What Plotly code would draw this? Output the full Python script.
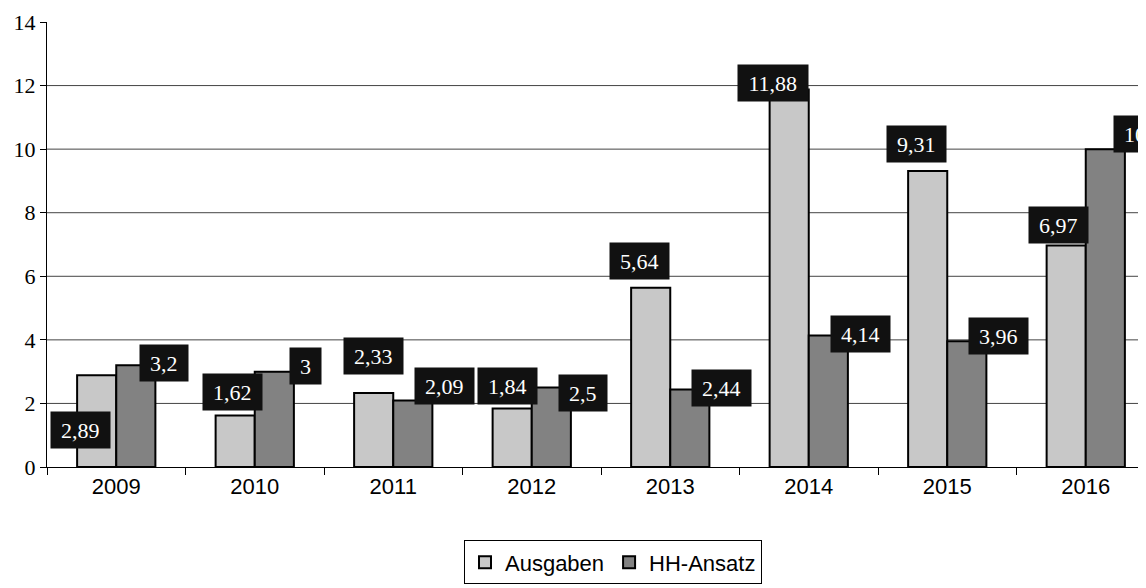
import plotly.graph_objects as go

# ---- data ----
years = ["2009", "2010", "2011", "2012", "2013", "2014", "2015", "2016"]
ausgaben = [2.89, 1.62, 2.33, 1.84, 5.64, 11.88, 9.31, 6.97]
hh_ansatz = [3.2, 3.0, 2.09, 2.5, 2.44, 4.14, 3.96, 10.0]
y_ticks = [0, 2, 4, 6, 8, 10, 12, 14]

# ---- styling ----
BARGAP = 0.435
half = (1 - BARGAP) / 4.0  # centre offset of each bar within its group

# label offsets (px) relative to bar top-centre, as manually placed in the original
aus_shift = [(-16, -55), (-3, 24), (0, 37), (-5, 23), (-11, 27), (-16, 6), (-11, 27), (-8, 20)]
hh_shift = [(28, 2), (31, 6), (32, 15), (32, -5), (32, 1), (32, 1), (32, 5), (30, 15)]


def fmt(v):
    return f"{v:g}".replace(".", ",")


def box_width(t):
    w = 0
    for ch in t:
        w += 5.5 if ch == "," else 11
    return w + 12


fig = go.Figure()
fig.add_trace(go.Bar(
    name="Ausgaben", x=years, y=ausgaben,
    marker=dict(color="#c8c8c8", line=dict(color="black", width=2)),
))
fig.add_trace(go.Bar(
    name="HH-Ansatz", x=years, y=hh_ansatz,
    marker=dict(color="#828282", line=dict(color="black", width=2)),
))

annotations = []
for series, off, shifts in ((ausgaben, -half, aus_shift), (hh_ansatz, half, hh_shift)):
    for i, v in enumerate(series):
        t = fmt(v)
        dx, dy = shifts[i]
        annotations.append(dict(
            x=i + off, y=v, xref="x", yref="y", text=t, showarrow=False,
            xanchor="center", yanchor="middle", xshift=dx, yshift=dy,
            bgcolor="#111111", borderpad=4, width=box_width(t), height=28,
            font=dict(family="Liberation Serif", size=22, color="white"),
        ))

shapes = []
for g in y_ticks[1:-1]:
    shapes.append(dict(
        type="line", xref="paper", yref="y", x0=0, x1=1, y0=g, y1=g,
        line=dict(color="#444444", width=1), layer="below",
    ))

# the page body has an 8px margin; the figure is sized so the chart sits where the original does
fig.update_layout(
    width=1138, height=580, autosize=False,
    margin=dict(l=39, r=0, t=14, b=121, pad=0),
    paper_bgcolor="white", plot_bgcolor="white",
    barmode="group", bargap=BARGAP, bargroupgap=0.0,
    annotations=annotations, shapes=shapes,
    legend=dict(
        orientation="h", x=0.515, xanchor="center", y=-0.165, yanchor="top",
        bordercolor="black", borderwidth=1, bgcolor="white",
        font=dict(family="Liberation Sans", size=22, color="black"),
        itemwidth=30, tracegroupgap=0,
    ),
    xaxis=dict(
        type="category", range=[-0.5, 7.435],
        showline=True, linecolor="black", linewidth=1,
        ticks="outside", tickson="boundaries", ticklen=7, tickcolor="black",
        tickfont=dict(family="Liberation Sans", size=22, color="black"),
        showgrid=False,
    ),
    yaxis=dict(
        range=[0, 14], tickvals=y_ticks,
        showline=True, linecolor="black", linewidth=1,
        ticks="outside", ticklen=6, tickcolor="black",
        tickfont=dict(family="Liberation Serif", size=22, color="black"),
        showgrid=False, zeroline=False,
    ),
)

fig.write_html("out.html")
